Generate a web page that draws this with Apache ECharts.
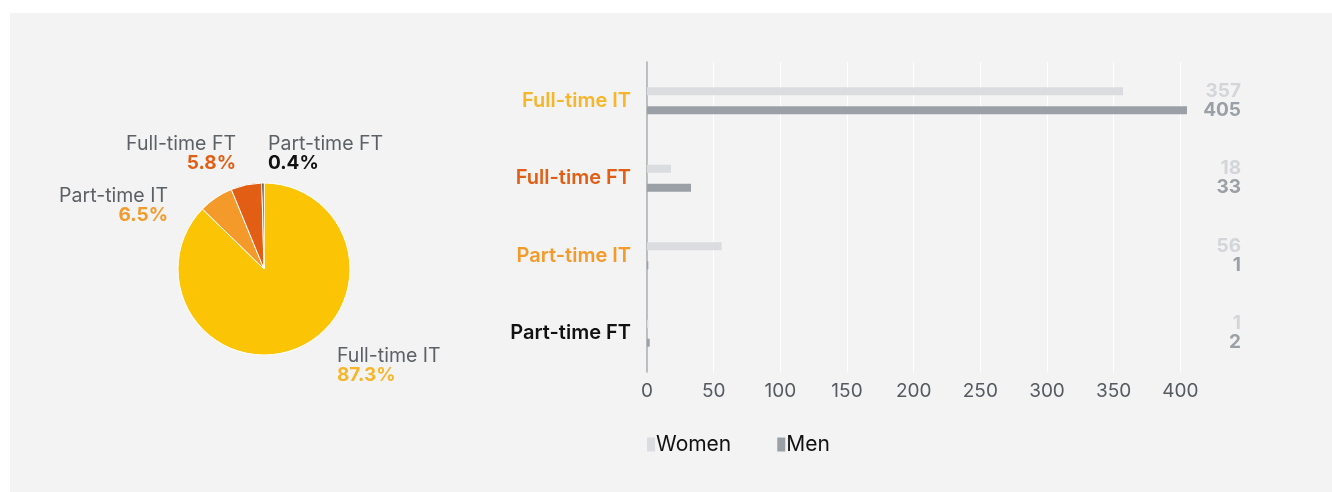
<!DOCTYPE html>
<html>
<head>
<meta charset="utf-8">
<script src="https://cdn.jsdelivr.net/npm/echarts@6/dist/echarts.min.js"></script>
<style>
  html, body { margin: 0; padding: 0; background: #ffffff; }
  #panel { position: absolute; left: 10px; top: 13px; width: 1322px; height: 479px; background: #f3f3f3; }
  #chart { position: absolute; left: 0; top: 0; width: 1332px; height: 492px; }
</style>
</head>
<body>
<div id="panel"></div>
<div id="chart"></div>
<script>
// Contract mix: share of staff by contract type, and headcount by gender
const categories = ['Full-time IT', 'Full-time FT', 'Part-time IT', 'Part-time FT'];
const shares = [87.3, 5.8, 6.5, 0.4];
const pieOrder = ['Full-time IT', 'Part-time IT', 'Full-time FT', 'Part-time FT'];
const women = [357, 18, 56, 1];
const men = [405, 33, 1, 2];
const xTicks = [0, 50, 100, 150, 200, 250, 300, 350, 400];

const catColors = {
  'Full-time IT': '#fbc405',
  'Part-time IT': '#f39a2b',
  'Full-time FT': '#e25e14',
  'Part-time FT': '#111111'
};
const catLabelColors = {
  'Full-time IT': '#f7b52a',
  'Part-time IT': '#f39a2b',
  'Full-time FT': '#e25e14',
  'Part-time FT': '#111111'
};
const FONT = 'Inter, "Noto Sans", sans-serif';

const pieData = pieOrder.map(name => ({
  name: name,
  value: shares[categories.indexOf(name)],
  itemStyle: { color: catColors[name] },
  label: { rich: { p: { color: catLabelColors[name] } } }
}));

// label anchor points around the pie
const pieLabelSpots = {
  'Full-time IT': { x: 337, y: 366, align: 'left' },
  'Part-time IT': { x: 168, y: 206, align: 'right' },
  'Full-time FT': { x: 236, y: 154, align: 'right' },
  'Part-time FT': { x: 268, y: 154, align: 'left' }
};

// bar grid: 405 units over 540 px; the tick grid uses the same scale up to 400
const PX_PER_UNIT = 540 / 405;

const chart = echarts.init(document.getElementById('chart'), null, { renderer: 'canvas' });

chart.setOption({
  backgroundColor: 'transparent',
  animation: false,
  textStyle: { fontFamily: FONT },
  legend: {
    data: ['Women', 'Men'],
    left: 642,
    top: 429,
    itemWidth: 8,
    itemHeight: 14,
    itemGap: 46,
    icon: 'rect',
    textStyle: { color: '#111111', fontSize: 21, fontFamily: FONT, padding: [0, 0, 0, -4] }
  },
  grid: [
    { left: 647, top: 62, width: 540, height: 310 },
    { left: 647, top: 62, width: 400 * PX_PER_UNIT, height: 310 }
  ],
  xAxis: [
    {
      type: 'value',
      gridIndex: 0,
      min: 0,
      max: 405,
      axisLine: { show: false },
      axisTick: { show: false },
      splitLine: { show: false },
      axisLabel: { show: false }
    },
    {
      type: 'value',
      gridIndex: 1,
      min: 0,
      max: 400,
      interval: 50,
      axisLine: { show: false },
      axisTick: { show: false },
      splitLine: { show: true, lineStyle: { color: '#ffffff', width: 1 } },
      axisLabel: {
        color: '#555a60',
        fontSize: 19,
        margin: 10,
        formatter: v => (xTicks.indexOf(v) >= 0 ? String(v) : '')
      }
    }
  ],
  yAxis: [
    {
      type: 'category',
      gridIndex: 0,
      data: categories,
      inverse: true,
      axisLine: { show: true, lineStyle: { color: '#a6abb0', width: 1.5 } },
      axisTick: { show: false },
      axisLabel: {
        margin: 16,
        fontSize: 20,
        fontWeight: 600,
        color: (v) => catLabelColors[v]
      }
    },
    {
      type: 'category',
      gridIndex: 1,
      data: categories,
      inverse: true,
      show: false
    }
  ],
  series: [
    {
      type: 'pie',
      center: [264, 269],
      radius: [0, 86],
      startAngle: 90,
      clockwise: true,
      data: pieData,
      itemStyle: { borderColor: '#ffffff', borderWidth: 1 },
      labelLine: { show: false },
      label: {
        show: true,
        position: 'outside',
        formatter: p => '{n|' + p.name + '}\n{p|' + p.value.toFixed(1) + '%}',
        rich: {
          n: { color: '#5c6166', fontSize: 19.5, fontFamily: FONT, lineHeight: 19 },
          p: { fontSize: 19, fontWeight: 'bold', fontFamily: FONT, lineHeight: 19 }
        }
      },
      labelLayout: (params) => {
        const s = pieLabelSpots[pieOrder[params.dataIndex]];
        return { x: s.x, y: s.y, align: s.align, verticalAlign: 'middle' };
      },
      emphasis: { disabled: true }
    },
    {
      name: 'Women',
      type: 'bar',
      xAxisIndex: 0,
      yAxisIndex: 0,
      data: women,
      barWidth: 8,
      barGap: '137%',
      itemStyle: { color: '#dadcdf' },
      label: {
        show: true,
        position: 'right',
        color: '#d3d5d8',
        fontSize: 19,
        fontWeight: 'bold',
        fontFamily: FONT
      },
      labelLayout: () => ({ x: 1241, align: 'right', verticalAlign: 'middle' })
    },
    {
      name: 'Men',
      type: 'bar',
      xAxisIndex: 0,
      yAxisIndex: 0,
      data: men,
      barWidth: 8,
      itemStyle: { color: '#9aa0a6' },
      label: {
        show: true,
        position: 'right',
        color: '#9aa0a6',
        fontSize: 19,
        fontWeight: 'bold',
        fontFamily: FONT
      },
      labelLayout: () => ({ x: 1241, align: 'right', verticalAlign: 'middle' })
    }
  ]
});
</script>
</body>
</html>
